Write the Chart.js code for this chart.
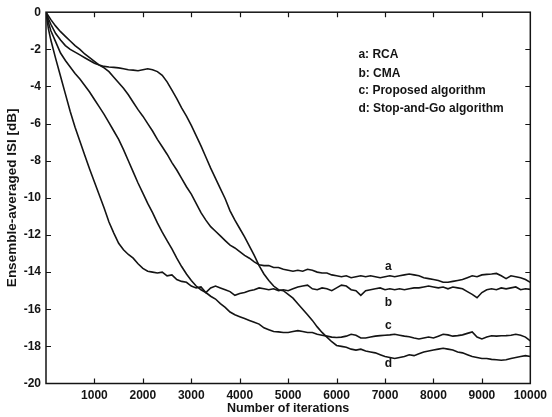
<!DOCTYPE html>
<html>
<head>
<meta charset="utf-8">
<script src="https://cdn.jsdelivr.net/npm/chart.js@4/dist/chart.umd.min.js"></script>
<style>
  html, body { margin: 0; padding: 0; background: #fff; }
  #wrap { width: 552px; height: 417px; position: relative; }
</style>
</head>
<body>
<div id="wrap"><canvas id="c" width="552" height="417"></canvas></div>
<script>
// ---- data ----
const iterations = [
  0, 50, 100, 200, 300, 400, 500, 600, 700, 800, 900,
  1000, 1100, 1200, 1300, 1400, 1500, 1600, 1700, 1800, 1900,
  2000, 2100, 2200, 2300, 2400, 2500, 2600, 2700, 2800, 2900,
  3000, 3100, 3200, 3300, 3400, 3500, 3600, 3700, 3800, 3900,
  4000, 4100, 4200, 4300, 4400, 4500, 4600, 4700, 4800, 4900,
  5000, 5100, 5200, 5300, 5400, 5500, 5600, 5700, 5800, 5900,
  6000, 6100, 6200, 6300, 6400, 6500, 6600, 6700, 6800, 6900,
  7000, 7100, 7200, 7300, 7400, 7500, 7600, 7700, 7800, 7900,
  8000, 8100, 8200, 8300, 8400, 8500, 8600, 8700, 8800, 8900,
  9000, 9100, 9200, 9300, 9400, 9500, 9600, 9700, 9800, 9900,
  10000
];

// a: RCA
const isiRCA = [
  0, -0.2, -0.4, -0.75, -1.05, -1.3, -1.55, -1.8, -2.0, -2.25, -2.45,
  -2.65, -2.85, -3.0, -3.2, -3.5, -3.8, -4.1, -4.45, -4.85, -5.25,
  -5.6, -6.0, -6.4, -6.85, -7.25, -7.65, -8.1, -8.5, -8.95, -9.4,
  -9.8, -10.3, -10.8, -11.2, -11.55, -11.8, -12.05, -12.3, -12.55, -12.7,
  -12.9, -13.1, -13.25, -13.45, -13.6, -13.65, -13.65, -13.75, -13.75, -13.85,
  -13.9, -13.95, -13.9, -13.95, -13.85, -13.9, -14.0, -14.05, -14.05, -14.15,
  -14.2, -14.25, -14.2, -14.3, -14.25, -14.2, -14.25, -14.2, -14.25, -14.3,
  -14.25, -14.2, -14.25, -14.2, -14.15, -14.1, -14.15, -14.2, -14.3, -14.35,
  -14.4, -14.45, -14.55, -14.55, -14.5, -14.45, -14.4, -14.3, -14.2, -14.25,
  -14.15, -14.12, -14.1, -14.07, -14.2, -14.35, -14.2, -14.25, -14.3, -14.4,
  -14.55
];

// b: CMA
const isiCMA = [
  0, -0.9, -1.5, -2.5, -3.45, -4.4, -5.35, -6.2, -6.95, -7.7, -8.45,
  -9.15, -9.85, -10.55, -11.3, -11.9, -12.45, -12.8, -13.05, -13.25, -13.55,
  -13.8, -13.95, -14.0, -14.05, -14.0, -14.2, -14.15, -14.4, -14.5, -14.55,
  -14.75, -14.85, -14.8, -15.1, -14.85, -14.75, -14.85, -14.95, -15.05, -15.25,
  -15.15, -15.1, -15.0, -14.95, -14.85, -14.9, -14.95, -14.9, -15.0, -14.95,
  -15.0, -14.9, -14.8, -14.75, -14.7, -14.9, -14.95, -14.85, -14.9, -15.0,
  -14.85, -14.7, -14.75, -14.95, -15.0, -15.25, -15.0, -14.95, -14.9, -14.85,
  -14.95, -14.9, -14.95, -14.9, -14.95, -14.9, -14.85, -14.85, -14.8, -14.75,
  -14.8, -14.85, -14.8, -14.9, -14.8, -14.85, -14.9, -15.05, -15.2, -15.38,
  -15.1, -14.95, -14.9, -14.95, -14.85, -14.9, -14.85, -14.8, -14.95, -14.9,
  -14.93
];

// c: Proposed algorithm
const isiProposed = [
  0, -0.55, -1.0, -1.6, -2.2, -2.6, -2.95, -3.3, -3.6, -3.95, -4.3,
  -4.7, -5.1, -5.5, -5.95, -6.4, -6.85, -7.4, -8.0, -8.6, -9.2,
  -9.75, -10.3, -10.8, -11.35, -11.85, -12.3, -12.75, -13.25, -13.7, -14.1,
  -14.45, -14.75, -14.95, -15.1, -15.3, -15.45, -15.7, -15.9, -16.15, -16.3,
  -16.4, -16.5, -16.6, -16.7, -16.8, -17.0, -17.1, -17.2, -17.22, -17.25,
  -17.25, -17.2, -17.15, -17.2, -17.25, -17.25, -17.35, -17.4, -17.45, -17.5,
  -17.52, -17.5, -17.45, -17.35, -17.4, -17.55, -17.55, -17.5, -17.45, -17.42,
  -17.4, -17.38, -17.35, -17.4, -17.45, -17.48, -17.55, -17.6, -17.55, -17.5,
  -17.55, -17.45, -17.35, -17.38, -17.45, -17.42, -17.38, -17.3, -17.22, -17.5,
  -17.6, -17.5, -17.43, -17.45, -17.43, -17.42, -17.4, -17.35, -17.4, -17.5,
  -17.7
];

// d: Stop-and-Go algorithm
const isiStopGo = [
  0, -0.35, -0.65, -1.15, -1.5, -1.8, -2.0, -2.15, -2.3, -2.45, -2.6,
  -2.75, -2.85, -2.92, -2.95, -2.97, -3.0, -3.05, -3.1, -3.12, -3.15,
  -3.1, -3.05, -3.1, -3.2, -3.4, -3.75, -4.2, -4.65, -5.15, -5.6,
  -6.1, -6.65, -7.2, -7.8, -8.4, -8.95, -9.5, -10.05, -10.7, -11.2,
  -11.65, -12.1, -12.6, -13.1, -13.65, -14.1, -14.45, -14.75, -14.95, -15.0,
  -15.2, -15.4, -15.7, -16.0, -16.3, -16.6, -16.95, -17.25, -17.5, -17.75,
  -17.95, -18.0, -18.05, -18.15, -18.2, -18.15, -18.25, -18.3, -18.35, -18.45,
  -18.55, -18.6, -18.65, -18.6, -18.55, -18.45, -18.5, -18.4, -18.3, -18.25,
  -18.2, -18.15, -18.1, -18.15, -18.2, -18.3, -18.35, -18.45, -18.55, -18.6,
  -18.65, -18.65, -18.7, -18.72, -18.75, -18.72, -18.65, -18.6, -18.55, -18.5,
  -18.55
];

const seriesLetters = ['a', 'b', 'c', 'd'];
const seriesNames = ['RCA', 'CMA', 'Proposed algorithm', 'Stop-and-Go algorithm'];

const xTickValues = [0, 1000, 2000, 3000, 4000, 5000, 6000, 7000, 8000, 9000, 10000];
const xTickLabels = ['', '1000', '2000', '3000', '4000', '5000', '6000', '7000', '8000', '9000', '10000'];
const yTickValues = [0, -2, -4, -6, -8, -10, -12, -14, -16, -18, -20];
const yTickLabels = ['0', '-2', '-4', '-6', '-8', '-10', '-12', '-14', '-16', '-18', '-20'];

// ---- presentation ----
const INK = '#141414';
const FONT = 'Liberation Sans, Arial, Helvetica, sans-serif';

const allSeries = [isiRCA, isiCMA, isiProposed, isiStopGo];

const datasets = allSeries.map((arr, k) => ({
  label: seriesLetters[k] + ': ' + seriesNames[k],
  data: iterations.map((x, i) => ({ x: x, y: arr[i] })),
  borderColor: INK,
  borderWidth: 1.6,
  pointRadius: 0,
  tension: 0,
  fill: false
}));

// where the annotation texts sit (in data units)
const legendAnchor = { x: 6450, y: [-2.3, -3.3, -4.25, -5.2] };
const letterAnchor = { x: 7070, y: [-13.7, -15.65, -16.9, -18.95] };

const framePlugin = {
  id: 'frame',
  afterDatasetsDraw(chart) {
    const { ctx, chartArea: a, scales: { x, y } } = chart;
    ctx.save();
    ctx.strokeStyle = INK;
    ctx.lineWidth = 1.5;
    ctx.strokeRect(a.left, a.top, a.right - a.left, a.bottom - a.top);
    ctx.lineWidth = 1.2;
    ctx.beginPath();
    xTickValues.forEach(v => {
      if (v <= x.min || v >= x.max) return;
      const px = Math.round(x.getPixelForValue(v)) + 0.5;
      ctx.moveTo(px, a.bottom); ctx.lineTo(px, a.bottom - 5);
      ctx.moveTo(px, a.top); ctx.lineTo(px, a.top + 5);
    });
    yTickValues.forEach(v => {
      if (v <= y.min || v >= y.max) return;
      const py = Math.round(y.getPixelForValue(v)) + 0.5;
      ctx.moveTo(a.left, py); ctx.lineTo(a.left + 5, py);
      ctx.moveTo(a.right, py); ctx.lineTo(a.right - 5, py);
    });
    ctx.stroke();

    // legend text block
    ctx.fillStyle = INK;
    ctx.font = 'bold 12px ' + FONT;
    ctx.textAlign = 'left';
    ctx.textBaseline = 'middle';
    const lx = x.getPixelForValue(legendAnchor.x);
    seriesNames.forEach((n, k) => {
      ctx.fillText(seriesLetters[k] + ': ' + n, lx, y.getPixelForValue(legendAnchor.y[k]));
    });
    // curve letters
    ctx.textAlign = 'center';
    const cx = x.getPixelForValue(letterAnchor.x);
    seriesLetters.forEach((s, k) => {
      ctx.fillText(s, cx, y.getPixelForValue(letterAnchor.y[k]));
    });
    ctx.restore();
  }
};

new Chart(document.getElementById('c'), {
  type: 'line',
  data: { datasets },
  options: {
    responsive: false,
    animation: false,
    devicePixelRatio: 1,
    layout: { padding: { top: 10, right: 18, left: 0, bottom: 0 } },
    plugins: { legend: { display: false }, tooltip: { enabled: false } },
    scales: {
      x: {
        type: 'linear',
        min: 0, max: 10000,
        afterBuildTicks: s => { s.ticks = xTickValues.map(v => ({ value: v })); },
        afterFit: s => { s.height = 33.5; },
        grid: { display: false, drawTicks: false },
        border: { display: false },
        ticks: {
          autoSkip: false, maxRotation: 0, padding: 5,
          color: INK, font: { family: FONT, size: 12, weight: 'bold' },
          callback: (v, i) => xTickLabels[i]
        },
        title: {
          display: true, text: 'Number of iterations', color: INK,
          font: { family: FONT, size: 12.5, weight: 'bold' },
          padding: { top: 0, bottom: 1 }
        }
      },
      y: {
        type: 'linear',
        min: -20, max: 0,
        afterBuildTicks: s => { s.ticks = yTickValues.map(v => ({ value: v })); },
        afterFit: s => { s.width = 46; },
        grid: { display: false, drawTicks: false },
        border: { display: false },
        ticks: {
          autoSkip: false, padding: 5,
          color: INK, font: { family: FONT, size: 12, weight: 'bold' },
          callback: (v, i) => yTickLabels[i]
        },
        title: {
          display: true, text: 'Ensemble-averaged ISI [dB]', color: INK,
          font: { family: FONT, size: 13.5, weight: 'bold' },
          padding: { top: 4, bottom: 0 }
        }
      }
    }
  },
  plugins: [framePlugin]
});
</script>
</body>
</html>
